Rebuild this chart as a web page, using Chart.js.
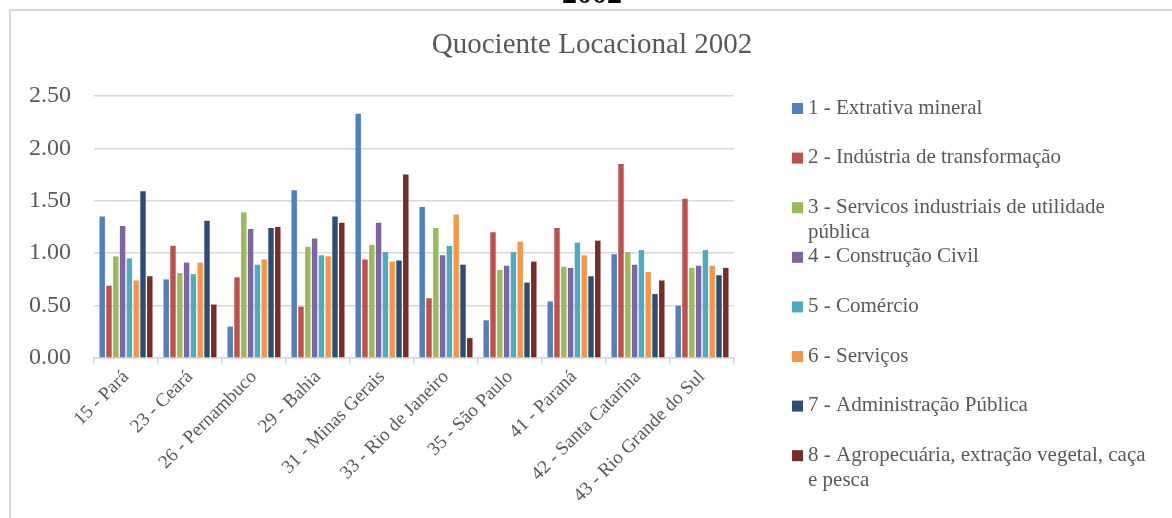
<!DOCTYPE html>
<html>
<head>
<meta charset="utf-8">
<script src="https://cdn.jsdelivr.net/npm/chart.js@4/dist/chart.umd.min.js"></script>
<style>
  html, body { margin: 0; padding: 0; background: #fff; overflow: hidden; }
  #wrap { position: relative; width: 1172px; height: 518px; }
</style>
</head>
<body>
<div id="wrap"><canvas id="grafico" width="1172" height="518"></canvas></div>
<script>
const estados = ['15 - Pará', '23 - Ceará', '26 - Pernambuco', '29 - Bahia', '31 - Minas Gerais',
  '33 - Rio de Janeiro', '35 - São Paulo', '41 - Paraná', '42 - Santa Catarina', '43 - Rio Grande do Sul'];

const extrativa   = [1.35, 0.75, 0.30, 1.60, 2.33, 1.44, 0.36, 0.54, 0.99, 0.50];
const industria   = [0.69, 1.07, 0.77, 0.49, 0.94, 0.57, 1.20, 1.24, 1.85, 1.52];
const servIndust  = [0.97, 0.81, 1.39, 1.06, 1.08, 1.24, 0.84, 0.87, 1.01, 0.86];
const construcao  = [1.26, 0.91, 1.23, 1.14, 1.29, 0.98, 0.88, 0.86, 0.89, 0.88];
const comercio    = [0.95, 0.80, 0.89, 0.98, 1.01, 1.07, 1.01, 1.10, 1.03, 1.03];
const servicos    = [0.74, 0.91, 0.94, 0.97, 0.92, 1.37, 1.11, 0.98, 0.82, 0.88];
const adminPub    = [1.59, 1.31, 1.24, 1.35, 0.93, 0.89, 0.72, 0.78, 0.61, 0.79];
const agropec     = [0.78, 0.51, 1.25, 1.29, 1.75, 0.19, 0.92, 1.12, 0.74, 0.86];

const setores = ['1 - Extrativa mineral', '2 - Indústria de transformação',
  '3 - Servicos industriais de utilidade pública', '4 - Construção Civil', '5 - Comércio',
  '6 - Serviços', '7 - Administração Pública', '8 - Agropecuária, extração vegetal, caça e pesca'];
const cores = ['#4F81BD', '#C0504D', '#9BBB59', '#8064A2', '#4BACC6', '#F79646', '#2C4D75', '#772C2A'];
const valores = [extrativa, industria, servIndust, construcao, comercio, servicos, adminPub, agropec];

const yTicks = [0, 0.5, 1, 1.5, 2, 2.5];

const serif = "'Liberation Serif', 'Times New Roman', serif";
const cinza = '#595959';
const linha = '#d9d9d9';

// titolo, legenda e moldura desenhados direto no canvas
const extras = {
  id: 'extras',
  afterDraw(chart) {
    const ctx = chart.ctx;
    ctx.save();
    // moldura
    ctx.strokeStyle = linha;
    ctx.lineWidth = 2;
    ctx.beginPath();
    ctx.moveTo(10, 518); ctx.lineTo(10, 10); ctx.lineTo(1172, 10);
    ctx.stroke();
    // pedaco do texto de cima
    ctx.fillStyle = '#000';
    ctx.font = 'bold 30px ' + serif;
    ctx.textAlign = 'center';
    ctx.textBaseline = 'alphabetic';
    ctx.fillText('2002', 592, 3);
    // titulo
    ctx.fillStyle = cinza;
    ctx.font = '29px ' + serif;
    ctx.fillText('Quociente Locacional 2002', 592, 53);
    // legenda
    ctx.font = '21px ' + serif;
    ctx.textAlign = 'left';
    ctx.textBaseline = 'middle';
    chart.data.datasets.forEach((ds, i) => {
      const y = 108 + i * 49.6;
      ctx.fillStyle = ds.backgroundColor;
      ctx.fillRect(792, y - 5, 11, 11);
      ctx.fillStyle = cinza;
      const palavras = ds.label.split(' ');
      let linhas = [], atual = '';
      palavras.forEach(p => {
        const teste = atual ? atual + ' ' + p : p;
        if (ctx.measureText(teste).width > 344 && atual) { linhas.push(atual); atual = p; }
        else atual = teste;
      });
      linhas.push(atual);
      linhas.forEach((l, k) => ctx.fillText(l, 808, y + k * 25));
    });
    ctx.restore();
  }
};

const ctx = document.getElementById('grafico').getContext('2d');
new Chart(ctx, {
  type: 'bar',
  data: {
    labels: estados,
    datasets: setores.map((s, i) => ({
      label: s,
      data: valores[i],
      backgroundColor: cores[i],
      borderWidth: 0,
      barPercentage: 0.8,
      categoryPercentage: 0.85
    }))
  },
  options: {
    responsive: false,
    animation: false,
    devicePixelRatio: 1,
    layout: { padding: { left: 0, top: 96, right: 438, bottom: 0 } },
    plugins: {
      legend: { display: false },
      title: { display: false },
      tooltip: { enabled: false }
    },
    scales: {
      x: {
        grid: { offset: true, drawOnChartArea: false, drawTicks: true, tickLength: 6, color: linha, lineWidth: 1.5 },
        border: { display: true, color: linha, width: 1.5 },
        ticks: {
          color: cinza,
          font: { family: serif, size: 19 },
          minRotation: 45,
          maxRotation: 45,
          padding: 2,
          autoSkip: false
        },
        afterFit(scale) { scale.height = 160; }
      },
      y: {
        min: 0,
        max: 2.5,
        afterBuildTicks(scale) { scale.ticks = yTicks.map(v => ({ value: v })); },
        grid: { color: linha, lineWidth: 1.5, drawTicks: false },
        border: { display: false },
        ticks: {
          color: cinza,
          font: { family: serif, size: 24 },
          padding: 23,
          callback: v => v.toFixed(2)
        },
        afterFit(scale) { scale.width = 94; }
      }
    }
  },
  plugins: [extras]
});
</script>
</body>
</html>
